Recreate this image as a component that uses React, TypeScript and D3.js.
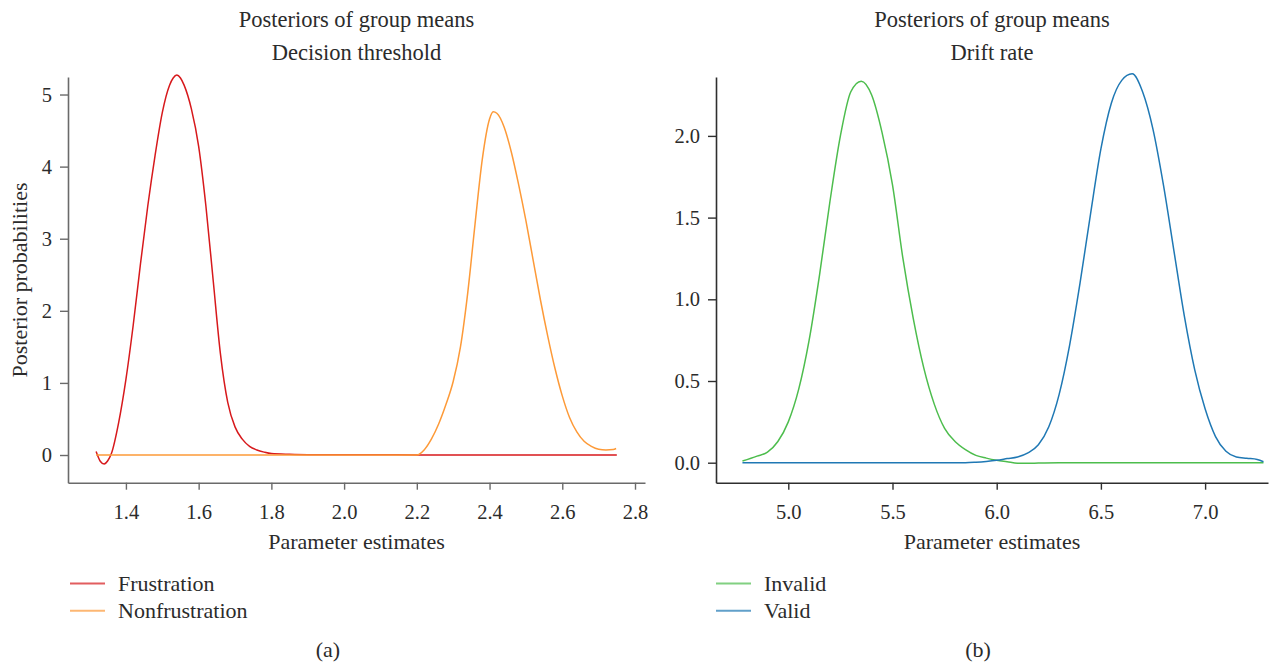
import { useEffect, useRef } from 'react';
import * as d3 from 'd3';

// panel (a): decision threshold
const frustrationX = [1.318, 1.33, 1.34, 1.35, 1.36, 1.38, 1.40, 1.42, 1.44, 1.46, 1.48, 1.50, 1.52, 1.53, 1.54, 1.55, 1.56, 1.58, 1.60, 1.62, 1.64, 1.66, 1.68, 1.70, 1.72, 1.74, 1.76, 1.78, 1.80, 1.85, 1.90, 2.00, 2.10, 2.20, 2.30, 2.50, 2.75];
const frustrationY = [0.05, -0.09, -0.125, -0.08, 0.02, 0.45, 1.05, 1.80, 2.65, 3.45, 4.15, 4.75, 5.13, 5.23, 5.27, 5.23, 5.13, 4.80, 4.28, 3.45, 2.42, 1.40, 0.73, 0.39, 0.22, 0.12, 0.07, 0.04, 0.02, 0.01, 0.005, 0.004, 0.004, 0.0, 0.0, 0.0, 0.0];

const nonfrustrationX = [1.318, 1.60, 1.90, 2.10, 2.20, 2.22, 2.24, 2.26, 2.28, 2.30, 2.32, 2.34, 2.36, 2.38, 2.40, 2.41, 2.42, 2.44, 2.46, 2.48, 2.50, 2.52, 2.54, 2.56, 2.58, 2.60, 2.62, 2.64, 2.66, 2.68, 2.70, 2.72, 2.74, 2.748];
const nonfrustrationY = [0.0, 0.0, 0.0, 0.0, 0.0, 0.07, 0.22, 0.43, 0.70, 1.02, 1.50, 2.25, 3.20, 4.10, 4.66, 4.76, 4.74, 4.55, 4.20, 3.75, 3.25, 2.70, 2.15, 1.65, 1.20, 0.82, 0.52, 0.32, 0.19, 0.12, 0.08, 0.07, 0.075, 0.09];

// panel (b): drift rate
const invalidX = [4.78, 4.85, 4.90, 4.95, 5.00, 5.05, 5.10, 5.15, 5.20, 5.25, 5.30, 5.35, 5.40, 5.45, 5.50, 5.55, 5.60, 5.65, 5.70, 5.75, 5.80, 5.85, 5.90, 5.95, 6.00, 6.05, 6.10, 6.15, 6.20, 6.30, 6.60, 7.00, 7.28];
const invalidY = [0.01, 0.04, 0.065, 0.13, 0.25, 0.45, 0.75, 1.15, 1.60, 2.00, 2.27, 2.335, 2.25, 2.02, 1.70, 1.25, 0.88, 0.58, 0.36, 0.21, 0.13, 0.08, 0.045, 0.028, 0.015, 0.006, -0.003, -0.004, -0.002, 0.0, 0.0, 0.0, 0.0];

const validX = [4.78, 5.20, 5.60, 5.85, 5.90, 5.95, 6.00, 6.05, 6.10, 6.15, 6.20, 6.25, 6.30, 6.35, 6.40, 6.45, 6.50, 6.55, 6.60, 6.65, 6.70, 6.75, 6.80, 6.85, 6.90, 6.95, 7.00, 7.05, 7.10, 7.15, 7.20, 7.25, 7.28];
const validY = [0.0, 0.0, 0.0, 0.0, 0.003, 0.008, 0.015, 0.025, 0.035, 0.06, 0.11, 0.22, 0.42, 0.72, 1.10, 1.52, 1.92, 2.20, 2.34, 2.38, 2.27, 2.04, 1.70, 1.30, 0.90, 0.57, 0.33, 0.16, 0.07, 0.035, 0.027, 0.02, 0.006];

const thresholdTicksX = [1.4, 1.6, 1.8, 2.0, 2.2, 2.4, 2.6, 2.8];
const thresholdTicksY = [0, 1, 2, 3, 4, 5];
const driftTicksX = [5.0, 5.5, 6.0, 6.5, 7.0];
const driftTicksY = [0.0, 0.5, 1.0, 1.5, 2.0];

const FONT = '"Liberation Serif", "DejaVu Serif", serif';
const TEXT = '#2b2b2b';

const zip = (xs, ys) => xs.map((x, i) => [x, ys[i]]);

const Panel = ({ id, left, right, xDomain, yDomain, xTicks, yTicks, yFmt, title, series, legendX, label, labelX, axisColor, ylabel }) => {
    const ref = useRef(null);
    const top = 77;
    const bottom = 482.7;

    useEffect(() => {
        const g = d3.select(ref.current);
        g.selectAll('*').remove();

        const x = d3.scaleLinear().domain(xDomain).range([left, right]);
        const y = d3.scaleLinear().domain(yDomain).range([bottom, top]);

        const xAxis = g.append('g')
            .attr('transform', `translate(0, ${bottom})`)
            .call(d3.axisBottom(x).tickValues(xTicks).tickFormat(d3.format('.1f')).tickSize(7).tickSizeOuter(0).tickPadding(15));
        const yAxis = g.append('g')
            .attr('transform', `translate(${left}, 0)`)
            .call(d3.axisLeft(y).tickValues(yTicks).tickFormat(yFmt).tickSize(8).tickSizeOuter(0).tickPadding(8));

        [xAxis, yAxis].forEach(a => {
            a.select('.domain').attr('stroke', axisColor).attr('stroke-width', 1.6);
            a.selectAll('line').attr('stroke', axisColor).attr('stroke-width', 1.4);
            a.selectAll('text')
                .attr('fill', TEXT)
                .style('font-family', FONT)
                .style('font-size', '20.5px');
        });

        const line = d3.line()
            .x(d => x(d[0]))
            .y(d => y(d[1]))
            .curve(d3.curveMonotoneX);

        series.forEach(s => {
            g.append('path')
                .datum(zip(s.xs, s.ys))
                .attr('d', line)
                .attr('fill', 'none')
                .attr('stroke', s.color)
                .attr('stroke-width', 1.5);
        });
    }, []);

    const cx = (left + right) / 2;
    return (
        <g id={id}>
            <g ref={ref}></g>
            <text x={cx} y={27} textAnchor="middle" fontSize={22.5} fill={TEXT} fontFamily={FONT}>Posteriors of group means</text>
            <text x={cx} y={60} textAnchor="middle" fontSize={22.5} fill={TEXT} fontFamily={FONT}>{title}</text>
            <text x={cx} y={549} textAnchor="middle" fontSize={22} fill={TEXT} fontFamily={FONT}>Parameter estimates</text>
            {ylabel && (
                <text transform="translate(27, 280) rotate(-90)" textAnchor="middle" fontSize={22} fill={TEXT} fontFamily={FONT}>{ylabel}</text>
            )}
            {series.map((s, i) => (
                <g key={s.name} transform={`translate(${legendX}, ${583.5 + i * 27.3})`}>
                    <line x1={0} x2={35} y1={0} y2={0} stroke={s.color} strokeWidth={2} opacity={0.7} />
                    <text x={48} y={7} fontSize={22} fill={TEXT} fontFamily={FONT}>{s.name}</text>
                </g>
            ))}
            <text x={labelX} y={657} textAnchor="middle" fontSize={22} fill={TEXT} fontFamily={FONT}>{label}</text>
        </g>
    );
};

export default function App() {
    return (
        <svg width={1273} height={662} style={{ position: 'absolute', left: 0, top: 0, display: 'block', background: '#fff' }}>
            <Panel
                id="threshold"
                left={68}
                right={645}
                xDomain={[1.2407, 2.8275]}
                yDomain={[-0.384, 5.243]}
                xTicks={thresholdTicksX}
                yTicks={thresholdTicksY}
                yFmt={d3.format('d')}
                title="Decision threshold"
                series={[
                    { name: 'Frustration', xs: frustrationX, ys: frustrationY, color: '#d7191c' },
                    { name: 'Nonfrustration', xs: nonfrustrationX, ys: nonfrustrationY, color: '#fd9a38' },
                ]}
                legendX={70}
                label="(a)"
                labelX={328}
                axisColor="#6a6a6a"
                ylabel="Posterior probabilities"
            />
            <Panel
                id="drift"
                left={716}
                right={1268}
                xDomain={[4.6531, 7.3018]}
                yDomain={[-0.1224, 2.3605]}
                xTicks={driftTicksX}
                yTicks={driftTicksY}
                yFmt={d3.format('.1f')}
                title="Drift rate"
                series={[
                    { name: 'Invalid', xs: invalidX, ys: invalidY, color: '#4dbd4d' },
                    { name: 'Valid', xs: validX, ys: validY, color: '#1f78b4' },
                ]}
                legendX={716}
                label="(b)"
                labelX={978}
                axisColor="#2e2e2e"
            />
        </svg>
    );
}
